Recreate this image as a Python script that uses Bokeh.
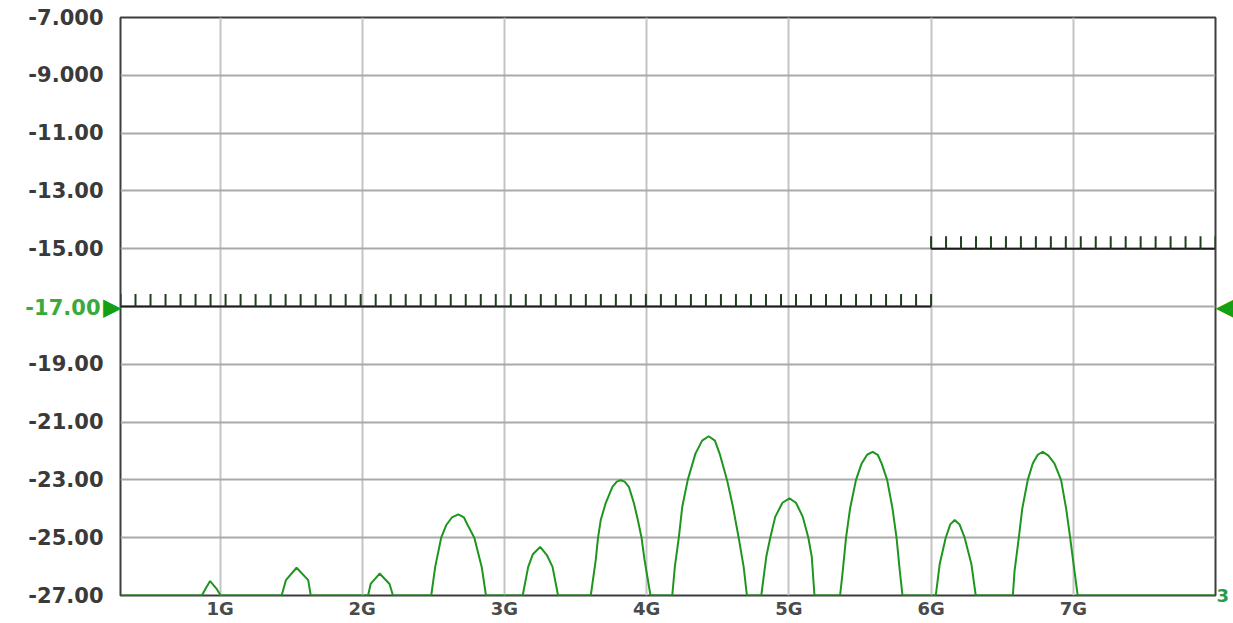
from bokeh.plotting import figure
from bokeh.models import FixedTicker, LinearAxis, Range1d
from bokeh.embed import file_html
from bokeh.resources import INLINE
import numpy as np

# ---- data ----
freq_ghz = [0.30, 0.872, 0.900, 0.930, 0.973, 1.005,
            1.433, 1.463, 1.538, 1.620, 1.638,
            2.041, 2.059, 2.122, 2.192, 2.216,
            2.485, 2.513, 2.555, 2.590, 2.630, 2.676, 2.715, 2.742, 2.788, 2.840, 2.870,
            3.128, 3.167, 3.200, 3.251, 3.298, 3.338, 3.377,
            3.607, 3.642, 3.658, 3.677, 3.712, 3.759, 3.790, 3.817, 3.845, 3.875, 3.910, 3.938, 3.964, 3.985, 4.027,
            4.180, 4.198, 4.226, 4.250, 4.289, 4.343, 4.390, 4.436, 4.480, 4.513, 4.565, 4.607, 4.647, 4.682, 4.705,
            4.806, 4.841, 4.869, 4.904, 4.955, 5.004, 5.050, 5.098, 5.137, 5.161, 5.180,
            5.360, 5.379, 5.402, 5.430, 5.472, 5.512, 5.550, 5.589, 5.625, 5.652, 5.691, 5.729, 5.757, 5.780, 5.799,
            6.033, 6.061, 6.103, 6.135, 6.166, 6.200, 6.236, 6.283, 6.314,
            6.575, 6.587, 6.617, 6.641, 6.680, 6.715, 6.750, 6.785, 6.825, 6.867, 6.914, 6.950, 6.978, 7.008, 7.031,
            8.00]
level_db = [-27, -27, -26.75, -26.50, -26.75, -27,
            -27, -26.47, -26.04, -26.47, -27,
            -27, -26.60, -26.24, -26.60, -27,
            -27, -26.01, -25.00, -24.57, -24.30, -24.19, -24.30, -24.57, -25.00, -26.01, -27,
            -27, -26.01, -25.57, -25.32, -25.60, -26.01, -27,
            -27, -25.77, -25.00, -24.39, -23.80, -23.24, -23.06, -23.01, -23.06, -23.24, -23.80, -24.39, -25.00, -25.77, -27,
            -27, -26.01, -25.00, -23.94, -23.00, -22.09, -21.64, -21.49, -21.64, -22.09, -23.00, -23.94, -25.00, -26.01, -27,
            -27, -25.66, -25.00, -24.28, -23.79, -23.64, -23.79, -24.28, -25.00, -25.66, -27,
            -27, -26.15, -25.00, -24.00, -23.00, -22.43, -22.13, -22.03, -22.13, -22.43, -23.00, -24.00, -25.00, -26.15, -27,
            -27, -25.90, -25.00, -24.54, -24.39, -24.54, -25.00, -25.90, -27,
            -27, -26.15, -25.00, -24.00, -23.00, -22.43, -22.13, -22.03, -22.16, -22.43, -23.00, -24.00, -25.00, -26.15, -27,
            -27]

limit_start_ghz = [0.3, 6.0]
limit_stop_ghz = [6.0, 8.0]
limit_level_db = [-17.0, -15.0]

x_ticks = [1, 2, 3, 4, 5, 6, 7]
x_tick_labels = ["1G", "2G", "3G", "4G", "5G", "6G", "7G"]
y_ticks = [-27, -25, -23, -21, -19, -17, -15, -13, -11, -9, -7]
y_tick_labels = ["-27.00", "-25.00", "-23.00", "-21.00", "-19.00", "-17.00",
                 "-15.00", "-13.00", "-11.00", "-9.000", "-7.000"]
x_start, x_end = 0.3, 8.0
y_start, y_end = -27, -7
reference_level_db = -17.0
reference_label = "-17.00"
trace_label = "3"

# ---- figure ----
FW, FH = 1095, 578
LABEL_W = 79      # approx. measured width of a "-27.00" label at 21px bold
STANDOFF = 17
TRI_W = 23        # approx. measured width of the triangle glyph at 24px
p = figure(frame_width=FW, frame_height=FH,
           x_range=Range1d(x_start, x_end), y_range=Range1d(y_start, y_end),
           output_backend="svg", toolbar_location=None,
           min_border_left=120, min_border_right=18, min_border_top=17,
           min_border_bottom=0)
p.background_fill_color = "white"
p.border_fill_color = "white"
p.outline_line_color = "#3d3d3d"
p.outline_line_width = 2


def style_axis(ax, size, color, bold=True):
    ax.axis_line_color = None
    ax.major_tick_line_color = None
    ax.minor_tick_line_color = None
    ax.major_tick_out = 0
    ax.major_tick_in = 0
    ax.major_label_text_font = "DejaVu Sans"
    ax.major_label_text_font_style = "bold" if bold else "normal"
    ax.major_label_text_font_size = size
    ax.major_label_text_color = color


p.xaxis.ticker = FixedTicker(ticks=x_ticks)
p.xaxis.major_label_overrides = {t: l for t, l in zip(x_ticks, x_tick_labels)}
p.yaxis.ticker = FixedTicker(ticks=y_ticks)
ov = {t: l for t, l in zip(y_ticks, y_tick_labels)}
ov[reference_level_db] = " "
p.yaxis.major_label_overrides = ov
style_axis(p.xaxis[0], "18px", "#4a4a4a")
style_axis(p.yaxis[0], "21px", "#3a3a3a")
p.yaxis.major_label_standoff = STANDOFF
p.xaxis.major_label_standoff = 2

p.xgrid.grid_line_color = "#c4c4c4"
p.xgrid.grid_line_width = 2
p.ygrid.grid_line_color = "#a9a9a9"
p.ygrid.grid_line_width = 2

# green reference-level label: outer left axis pulled back over the main labels
REF_SHIFT = 4
ref_axis = LinearAxis(ticker=FixedTicker(ticks=[reference_level_db]),
                      major_label_overrides={reference_level_db: reference_label},
                      major_label_standoff=-LABEL_W + REF_SHIFT)
style_axis(ref_axis, "21px", "#3aaa3a")
p.add_layout(ref_axis, "left")

# reference triangle on the left edge
tri_left = LinearAxis(ticker=FixedTicker(ticks=[reference_level_db]),
                      major_label_overrides={reference_level_db: "\u25B6"},
                      major_label_standoff=-(STANDOFF + LABEL_W) + 1 - REF_SHIFT)
style_axis(tri_left, "24px", "#14a014", bold=False)
p.add_layout(tri_left, "left")

# reference triangle on the right edge
tri_right = LinearAxis(ticker=FixedTicker(ticks=[reference_level_db]),
                       major_label_overrides={reference_level_db: "\u25C0"},
                       major_label_standoff=0)
style_axis(tri_right, "24px", "#14a014", bold=False)
p.add_layout(tri_right, "right")

# trace number on the right, pulled back over the triangle slot
trace_axis = LinearAxis(ticker=FixedTicker(ticks=[y_start]),
                        major_label_overrides={y_start: trace_label},
                        major_label_standoff=-TRI_W + 3)
style_axis(trace_axis, "18px", "#2a9a4a")
p.add_layout(trace_axis, "right")

# limit line with hatching ticks
p.segment(x0=limit_start_ghz, x1=limit_stop_ghz, y0=limit_level_db, y1=limit_level_db,
          line_color="#1a1a1a", line_width=2)
tx, ty0, ty1 = [], [], []
for x0, x1, lv in zip(limit_start_ghz, limit_stop_ghz, limit_level_db):
    n = int(round((x1 - x0) / 0.105)) + 1
    for xv in np.linspace(x0, x1, n):
        tx.append(xv)
        ty0.append(lv)
        ty1.append(lv + 0.43)
p.segment(x0=tx, x1=tx, y0=ty0, y1=ty1, line_color="#1f3f1f", line_width=2)

# trace
p.line(freq_ghz, level_db, line_color="#1e961e", line_width=2)

open("out.html", "w").write(file_html(p, INLINE))
